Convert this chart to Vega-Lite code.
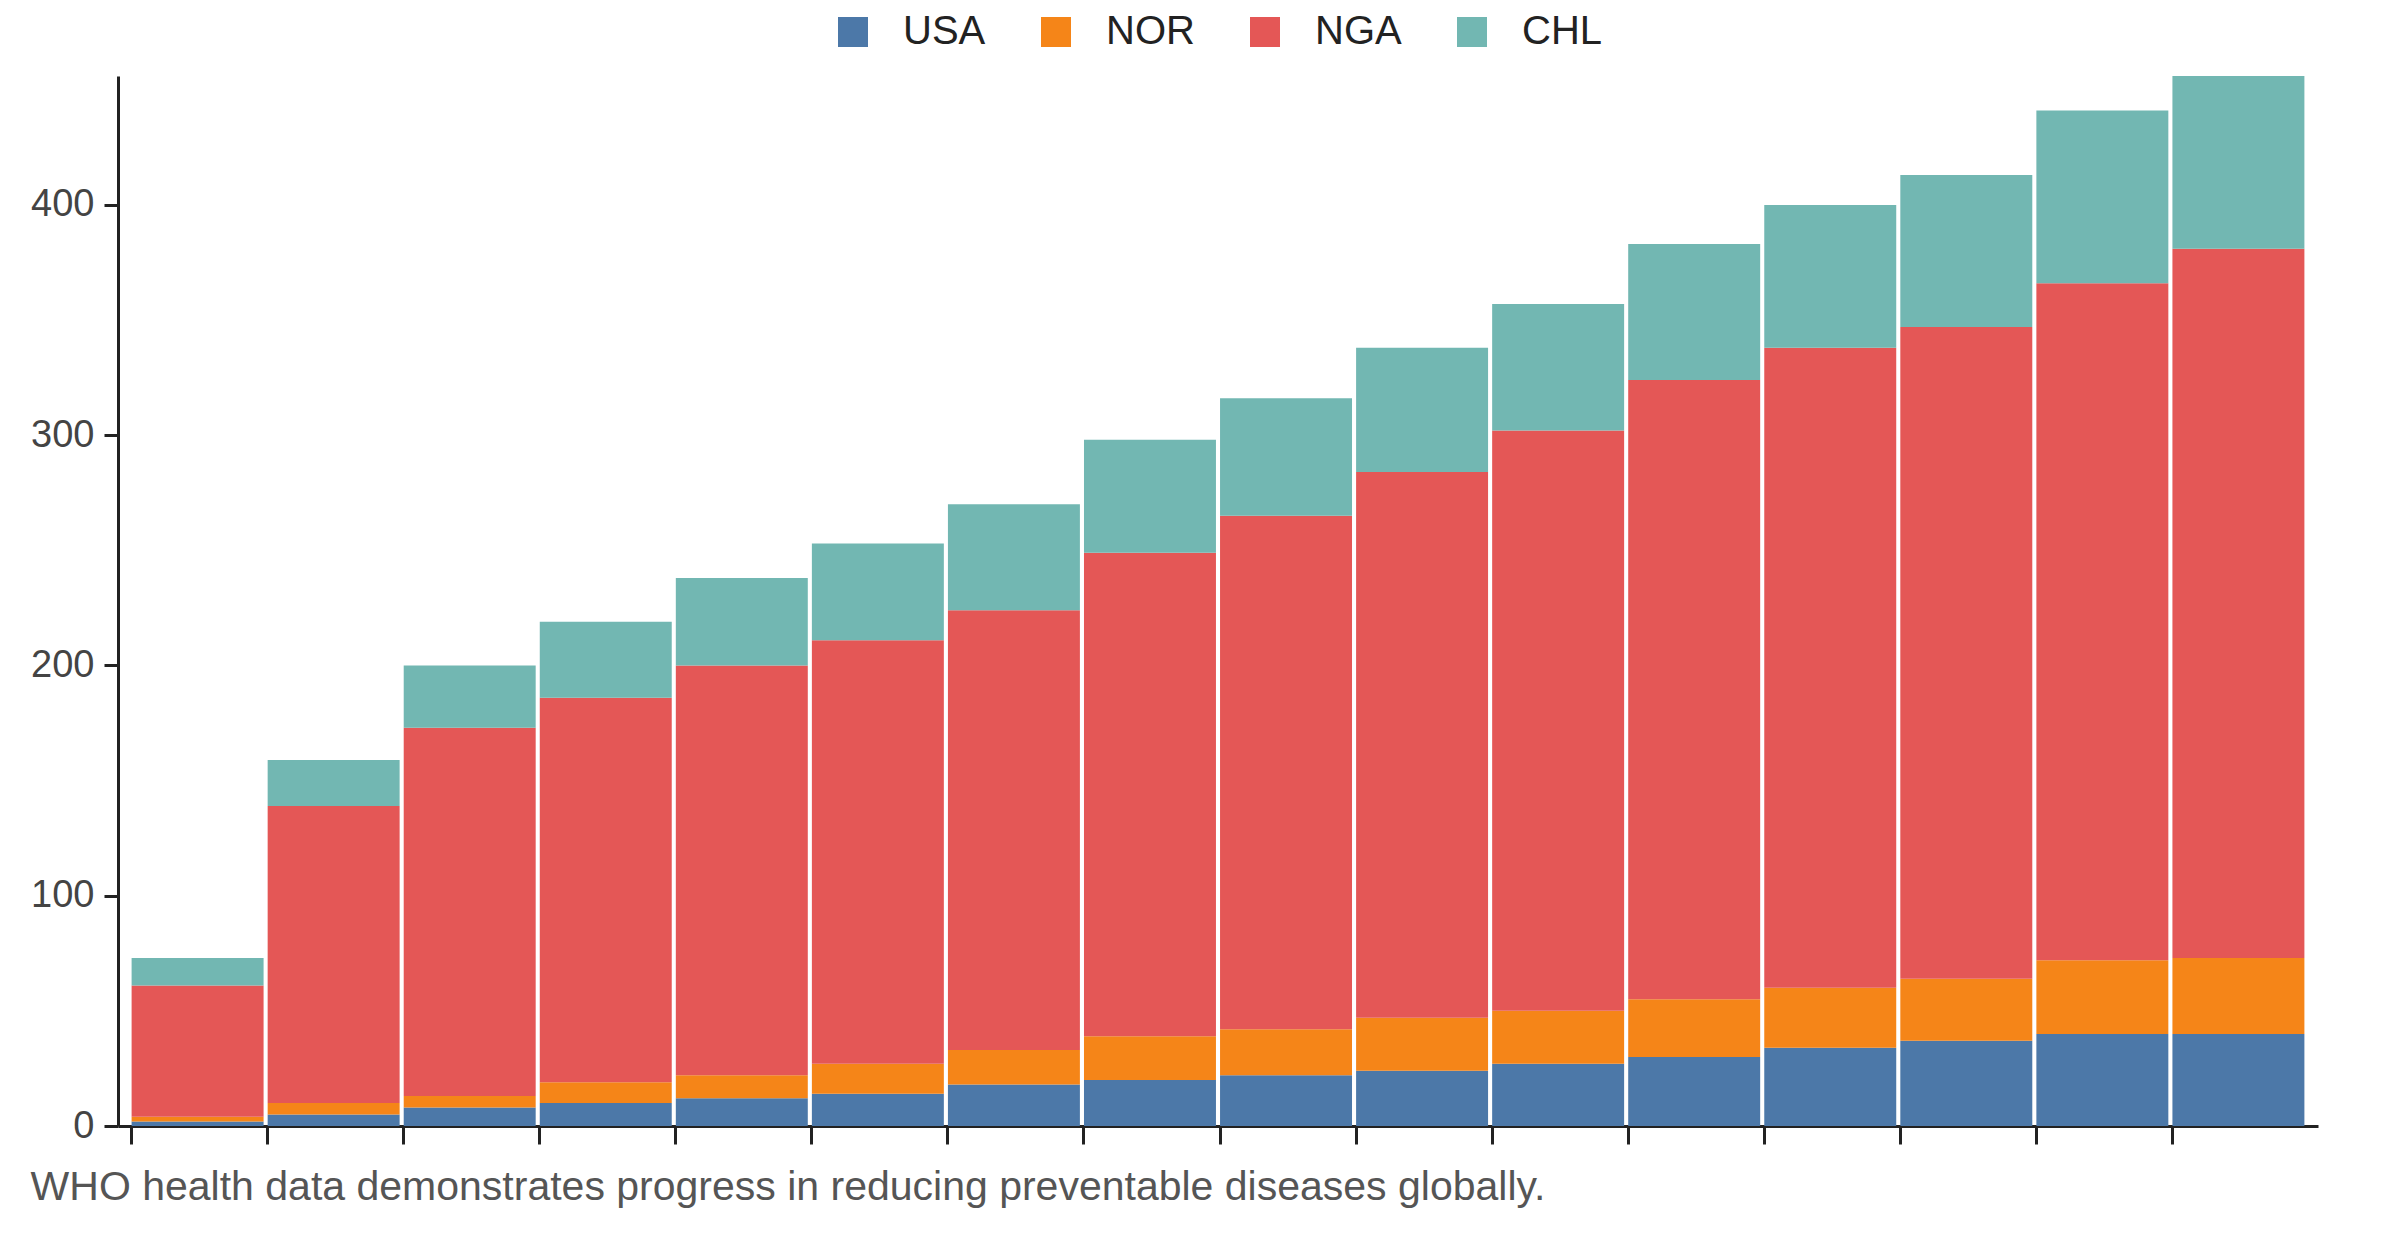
{
  "$schema": "https://vega.github.io/schema/vega-lite/v6.json",
  "width": 2200,
  "height": 1050,
  "padding": {"left": 30, "top": 12, "right": 20, "bottom": 10},
  "title": {"text": "WHO health data demonstrates progress in reducing preventable diseases globally.", "orient": "bottom", "anchor": "start", "fontSize": 41, "fontWeight": "normal", "font": "Liberation Sans", "color": "#555", "offset": 22},
  "data": {
    "values": [
      {"year": 2008, "c": "USA", "v": 2}, {"year": 2008, "c": "NOR", "v": 2}, {"year": 2008, "c": "NGA", "v": 57}, {"year": 2008, "c": "CHL", "v": 12},
      {"year": 2009, "c": "USA", "v": 5}, {"year": 2009, "c": "NOR", "v": 5}, {"year": 2009, "c": "NGA", "v": 129}, {"year": 2009, "c": "CHL", "v": 20},
      {"year": 2010, "c": "USA", "v": 8}, {"year": 2010, "c": "NOR", "v": 5}, {"year": 2010, "c": "NGA", "v": 160}, {"year": 2010, "c": "CHL", "v": 27},
      {"year": 2011, "c": "USA", "v": 10}, {"year": 2011, "c": "NOR", "v": 9}, {"year": 2011, "c": "NGA", "v": 167}, {"year": 2011, "c": "CHL", "v": 33},
      {"year": 2012, "c": "USA", "v": 12}, {"year": 2012, "c": "NOR", "v": 10}, {"year": 2012, "c": "NGA", "v": 178}, {"year": 2012, "c": "CHL", "v": 38},
      {"year": 2013, "c": "USA", "v": 14}, {"year": 2013, "c": "NOR", "v": 13}, {"year": 2013, "c": "NGA", "v": 184}, {"year": 2013, "c": "CHL", "v": 42},
      {"year": 2014, "c": "USA", "v": 18}, {"year": 2014, "c": "NOR", "v": 15}, {"year": 2014, "c": "NGA", "v": 191}, {"year": 2014, "c": "CHL", "v": 46},
      {"year": 2015, "c": "USA", "v": 20}, {"year": 2015, "c": "NOR", "v": 19}, {"year": 2015, "c": "NGA", "v": 210}, {"year": 2015, "c": "CHL", "v": 49},
      {"year": 2016, "c": "USA", "v": 22}, {"year": 2016, "c": "NOR", "v": 20}, {"year": 2016, "c": "NGA", "v": 223}, {"year": 2016, "c": "CHL", "v": 51},
      {"year": 2017, "c": "USA", "v": 24}, {"year": 2017, "c": "NOR", "v": 23}, {"year": 2017, "c": "NGA", "v": 237}, {"year": 2017, "c": "CHL", "v": 54},
      {"year": 2018, "c": "USA", "v": 27}, {"year": 2018, "c": "NOR", "v": 23}, {"year": 2018, "c": "NGA", "v": 252}, {"year": 2018, "c": "CHL", "v": 55},
      {"year": 2019, "c": "USA", "v": 30}, {"year": 2019, "c": "NOR", "v": 25}, {"year": 2019, "c": "NGA", "v": 269}, {"year": 2019, "c": "CHL", "v": 59},
      {"year": 2020, "c": "USA", "v": 34}, {"year": 2020, "c": "NOR", "v": 26}, {"year": 2020, "c": "NGA", "v": 278}, {"year": 2020, "c": "CHL", "v": 62},
      {"year": 2021, "c": "USA", "v": 37}, {"year": 2021, "c": "NOR", "v": 27}, {"year": 2021, "c": "NGA", "v": 283}, {"year": 2021, "c": "CHL", "v": 66},
      {"year": 2022, "c": "USA", "v": 40}, {"year": 2022, "c": "NOR", "v": 32}, {"year": 2022, "c": "NGA", "v": 294}, {"year": 2022, "c": "CHL", "v": 75},
      {"year": 2023, "c": "USA", "v": 40}, {"year": 2023, "c": "NOR", "v": 33}, {"year": 2023, "c": "NGA", "v": 308}, {"year": 2023, "c": "CHL", "v": 75}
    ]
  },
  "mark": {"type": "bar"},
  "encoding": {
    "x": {"field": "year", "type": "ordinal", "title": null,
      "scale": {"paddingInner": 0.03, "paddingOuter": 0.1},
      "axis": {"labels": false, "bandPosition": 0, "tickSize": 18, "tickWidth": 3, "tickColor": "#222", "domainColor": "#222", "domainWidth": 3}},
    "y": {"field": "v", "type": "quantitative", "aggregate": "sum", "stack": "zero", "title": null,
      "scale": {"domain": [0, 456], "nice": false},
      "axis": {"grid": false, "values": [0, 100, 200, 300, 400], "labelFontSize": 38, "labelFont": "Liberation Sans", "labelColor": "#444", "tickSize": 14, "tickWidth": 3, "tickColor": "#222", "domainColor": "#222", "domainWidth": 3, "labelPadding": 10}},
    "color": {"field": "c", "type": "nominal", "title": null,
      "sort": ["USA", "NOR", "NGA", "CHL"],
      "scale": {"domain": ["USA", "NOR", "NGA", "CHL"], "range": ["#4c78a8", "#f58518", "#e45756", "#72b7b2"]},
      "legend": {"orient": "top", "direction": "horizontal", "labelFontSize": 40, "labelFont": "Liberation Sans", "labelColor": "#222", "symbolType": "square", "symbolSize": 900, "symbolStrokeWidth": 0, "symbolOpacity": 1, "columnPadding": 50, "labelOffset": 30, "padding": 0, "offset": 24}}
  },
  "config": {"view": {"stroke": null}, "legend": {"layout": {"top": {"anchor": "middle"}}}}
}
